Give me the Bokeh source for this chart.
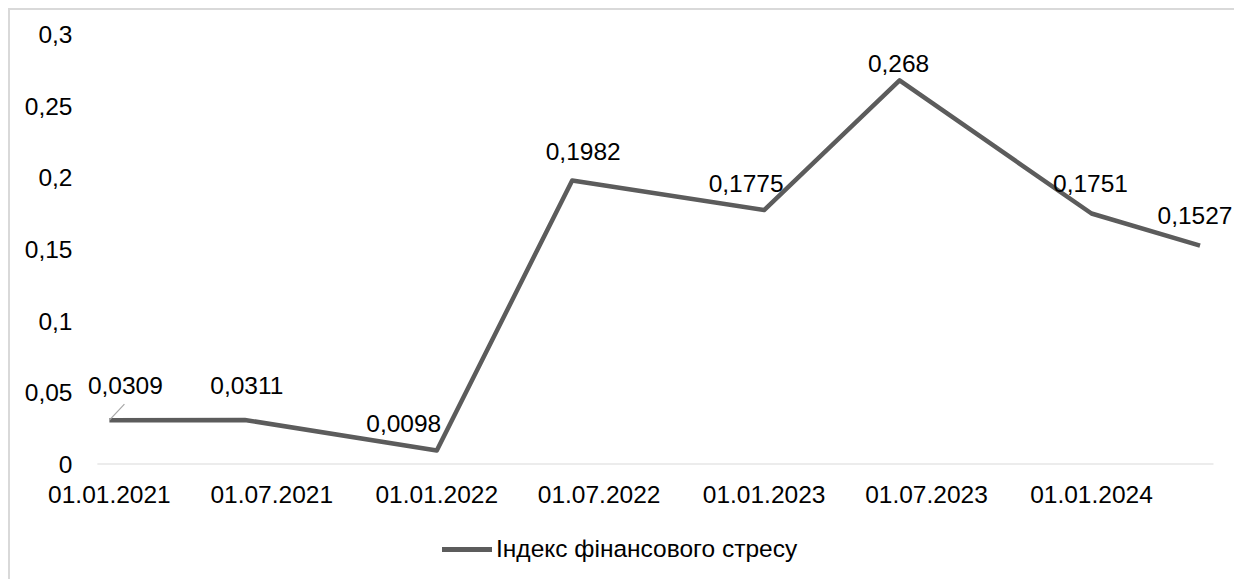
from datetime import datetime, timedelta
from bokeh.plotting import figure
from bokeh.layouts import column, row
from bokeh.models import (ColumnDataSource, FixedTicker, CustomJSTickFormatter, Range1d,
                          LabelSet, Legend, LegendItem, Segment, Spacer)
from bokeh.core.properties import value
from bokeh.embed import file_html
from bokeh.resources import INLINE

# ---- data ----
dates = ["01.01.2021", "01.06.2021", "01.01.2022", "01.06.2022",
         "01.01.2023", "01.06.2023", "01.01.2024", "01.05.2024"]
stress_index = [0.0309, 0.0311, 0.0098, 0.1982, 0.1775, 0.268, 0.1751, 0.1527]
x_tick_labels = ["01.01.2021", "01.07.2021", "01.01.2022", "01.07.2022",
                 "01.01.2023", "01.07.2023", "01.01.2024"]
y_ticks = [0, 0.05, 0.1, 0.15, 0.2, 0.25, 0.3]
series_name = "Індекс фінансового стресу"

# ---- view settings ----
view_start = datetime(2020, 12, 2)
view_end = datetime(2024, 6, 10, 16)
axis_start = datetime(2020, 12, 18, 14)
axis_end = datetime(2024, 5, 16)

# ---- label styling (pixel offsets) ----
label_dx = [16, 2, -33, 11, -18, -1, -1, -5]
label_dy = [35, 34, 27, 29, 27, 17, 30, 30]
leader_px = (15, 16)   # leader line of the first label, in screen pixels

FONT = "Liberation Sans"
FS = "24.5px"
LINE_COLOR = "#5c5c5c"
BORDER = "2px solid #d9d9d9"

W, H = 1226, 506
B_LEFT, B_RIGHT, B_TOP, B_BOTTOM = 72, 0, 24, 52

def to_dt(s):
    return datetime.strptime(s, "%d.%m.%Y")

xs = [to_dt(d) for d in dates]
tick_ms = [to_dt(d).timestamp() * 1000 for d in x_tick_labels]

src = ColumnDataSource(dict(
    x=xs, y=stress_index,
    txt=[str(v).replace(".", ",") for v in stress_index],
    dx=label_dx, dy=label_dy,
))

p = figure(width=W, height=H, x_axis_type="datetime",
           output_backend="svg", toolbar_location=None,
           min_border_left=B_LEFT, min_border_right=B_RIGHT,
           min_border_top=B_TOP, min_border_bottom=B_BOTTOM)
p.styles = {"border-left": BORDER, "border-top": BORDER}

p.x_range = Range1d(view_start, view_end)
p.y_range = Range1d(0, 0.3)
p.outline_line_color = None
p.xgrid.visible = False
p.ygrid.visible = False

# horizontal category axis line (at y = 0 over the axis span)
p.add_glyph(ColumnDataSource(dict(x0=[axis_start], x1=[axis_end], y0=[0], y1=[0])),
            Segment(x0="x0", y0="y0", x1="x1", y1="y1", line_color="#d9d9d9", line_width=2))

r = p.line("x", "y", source=src, line_color=LINE_COLOR, line_width=4.5, line_join="round")

# leader line for the first label: from the point, offset in screen pixels
frame_w = W - B_LEFT - B_RIGHT
frame_h = H - B_TOP - B_BOTTOM
sec_per_px = (view_end - view_start).total_seconds() / frame_w
val_per_px = 0.3 / frame_h
lx1 = xs[0] + timedelta(seconds=leader_px[0] * sec_per_px)
ly1 = stress_index[0] + leader_px[1] * val_per_px
p.add_glyph(ColumnDataSource(dict(x0=[xs[0]], y0=[stress_index[0]], x1=[lx1], y1=[ly1])),
            Segment(x0="x0", y0="y0", x1="x1", y1="y1", line_color="#a6a6a6", line_width=1.2))

labels = LabelSet(x="x", y="y", text="txt", source=src, x_offset="dx", y_offset="dy",
                  text_align="center", text_baseline="middle",
                  text_font=value(FONT), text_font_size=FS, text_color="#000000")
p.add_layout(labels)

# x axis
xa = p.xaxis[0]
xa.ticker = FixedTicker(ticks=tick_ms)
xa.formatter = CustomJSTickFormatter(code="""
const d = new Date(tick);
const dd = String(d.getUTCDate()).padStart(2,'0');
const mm = String(d.getUTCMonth()+1).padStart(2,'0');
return dd + '.' + mm + '.' + d.getUTCFullYear();
""")
xa.axis_line_color = None
xa.major_tick_line_color = None
xa.minor_tick_line_color = None
xa.major_label_text_font = FONT
xa.major_label_text_font_size = FS
xa.major_label_text_color = "#000000"
xa.major_label_standoff = 15

ya = p.yaxis[0]
ya.ticker = FixedTicker(ticks=y_ticks)
ya.formatter = CustomJSTickFormatter(code="""
let s = tick.toFixed(2).replace(/0+$/,'').replace(/\\.$/,'');
return s.replace('.', ',');
""")
ya.axis_line_color = None
ya.major_tick_line_color = None
ya.minor_tick_line_color = None
ya.major_label_text_font = FONT
ya.major_label_text_font_size = FS
ya.major_label_text_color = "#000000"
ya.major_label_standoff = 4

# ---- legend strip (separate figure below the chart) ----
lf = figure(width=W, height=65, output_backend="svg", toolbar_location=None,
            x_range=Range1d(view_start, view_end), y_range=Range1d(1, 2),
            x_axis_location=None, y_axis_location=None,
            min_border=0, outline_line_color=None)
lf.styles = {"border-left": BORDER}
lf.grid.visible = False
# same series, scrolled out of view: only its legend swatch shows
lr = lf.line("x", "y", source=src, line_color=LINE_COLOR, line_width=5, line_cap="round")
legend = Legend(items=[LegendItem(label=series_name, renderers=[lr])],
                location=(360, 16), orientation="horizontal",
                label_text_font=FONT, label_text_font_size=FS, label_text_color="#000000",
                glyph_width=50, glyph_height=20, padding=0, margin=0, spacing=0,
                label_standoff=4, border_line_color=None, background_fill_alpha=0)
lf.add_layout(legend)

layout = column(Spacer(width=1234, height=8),
                row(Spacer(width=8, height=571), column(p, lf, spacing=0), spacing=0),
                spacing=0)
open("out.html", "w").write(file_html(layout, INLINE))
